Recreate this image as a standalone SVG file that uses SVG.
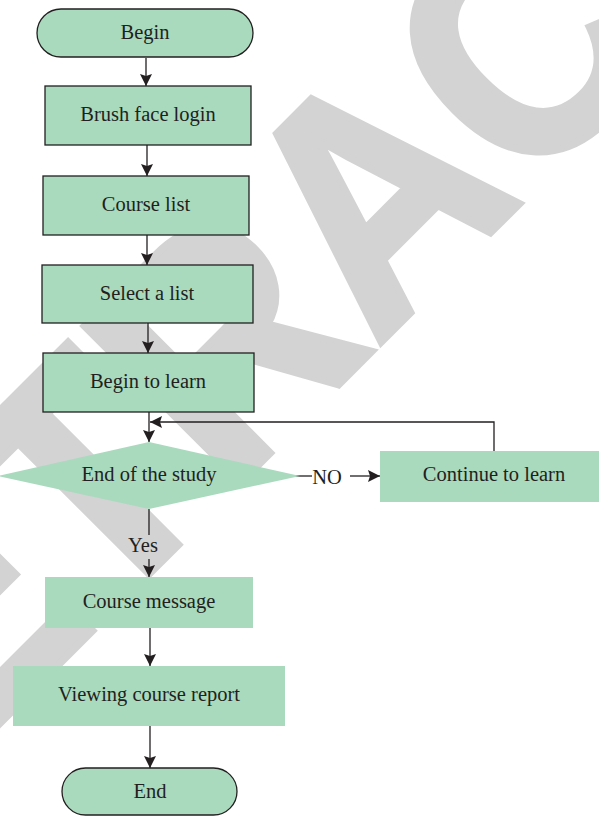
<svg xmlns="http://www.w3.org/2000/svg" width="599" height="816" viewBox="0 0 599 816">
  <defs>
    <marker id="arrow" markerUnits="userSpaceOnUse" markerWidth="13" markerHeight="13" refX="12" refY="6.5" orient="auto">
      <path d="M0,0.5 L12,6.5 L0,12.5 L2,6.5 Z" fill="#231f20"/>
    </marker>
    <style>
      .node { fill: #a9dabe; }
      .stroked { stroke: #231f20; stroke-width: 1.3; }
      .conn { stroke: #231f20; stroke-width: 1.3; fill: none; }
      .arr { marker-end: url(#arrow); }
      .lbl { font-family: "Liberation Serif", "Times New Roman", serif; font-size: 20.5px; fill: #231f20; text-anchor: middle; }
      .mark { font-family: "Liberation Sans", Arial, sans-serif; font-weight: bold; font-size: 292px; fill: #d3d3d3; stroke: #d3d3d3; stroke-width: 7; stroke-linejoin: miter; }
    </style>
  </defs>

  <rect width="599" height="816" fill="#ffffff"/>

  <!-- background stamp -->
  <g id="stamp">
    <text class="mark" transform="translate(376,347) rotate(-45) scale(1,1.1)" x="-795" y="0">RETRACTED</text>
  </g>

  <g id="connectors">
    <line class="conn arr" x1="146" y1="58" x2="146" y2="86"/>
    <line class="conn arr" x1="147" y1="145" x2="147" y2="176"/>
    <line class="conn arr" x1="147" y1="235" x2="147" y2="265"/>
    <line class="conn arr" x1="148" y1="323" x2="148" y2="353"/>
    <line class="conn arr" x1="149" y1="412" x2="149" y2="442"/>
    <polyline class="conn arr" points="494,451 494,422 150,422"/>
    <line class="conn" x1="149" y1="509" x2="149" y2="535"/>
    <line class="conn arr" x1="149" y1="559" x2="149" y2="577"/>
    <line class="conn" x1="283" y1="476" x2="312" y2="476"/>
    <line class="conn arr" x1="350" y1="476" x2="380" y2="476"/>
    <line class="conn arr" x1="150" y1="628" x2="150" y2="666"/>
    <line class="conn arr" x1="150" y1="726" x2="150" y2="768"/>
    <text class="lbl" x="143" y="552">Yes</text>
    <text class="lbl" x="327" y="484">NO</text>
  </g>

  <g id="begin">
    <rect class="node stroked" x="37" y="9" width="216" height="48" rx="24" ry="24"/>
    <text class="lbl" x="145" y="39">Begin</text>
  </g>

  <g id="brush-face-login">
    <rect class="node stroked" x="45" y="86" width="206" height="59"/>
    <text class="lbl" x="148" y="121">Brush face login</text>
  </g>

  <g id="course-list">
    <rect class="node stroked" x="43" y="176" width="206" height="59"/>
    <text class="lbl" x="146" y="211">Course list</text>
  </g>

  <g id="select-a-list">
    <rect class="node stroked" x="42" y="265" width="211" height="58"/>
    <text class="lbl" x="147" y="300">Select a list</text>
  </g>

  <g id="begin-to-learn">
    <rect class="node stroked" x="43" y="353" width="211" height="59"/>
    <text class="lbl" x="148" y="388">Begin to learn</text>
  </g>

  <g id="end-of-study">
    <polygon class="node" points="149,442 300,476 149,509 -2,476"/>
    <text class="lbl" x="149" y="481">End of the study</text>
  </g>

  <g id="continue-to-learn">
    <rect class="node" x="380" y="451" width="225" height="51"/>
    <text class="lbl" x="494" y="481">Continue to learn</text>
  </g>

  <g id="course-message">
    <rect class="node" x="45" y="577" width="208" height="51"/>
    <text class="lbl" x="149" y="608">Course message</text>
  </g>

  <g id="viewing-course-report">
    <rect class="node" x="13" y="666" width="272" height="60"/>
    <text class="lbl" x="149" y="701">Viewing course report</text>
  </g>

  <g id="end">
    <rect class="node stroked" x="62" y="768" width="175" height="47" rx="23.5" ry="23.5"/>
    <text class="lbl" x="150" y="798">End</text>
  </g>
</svg>
